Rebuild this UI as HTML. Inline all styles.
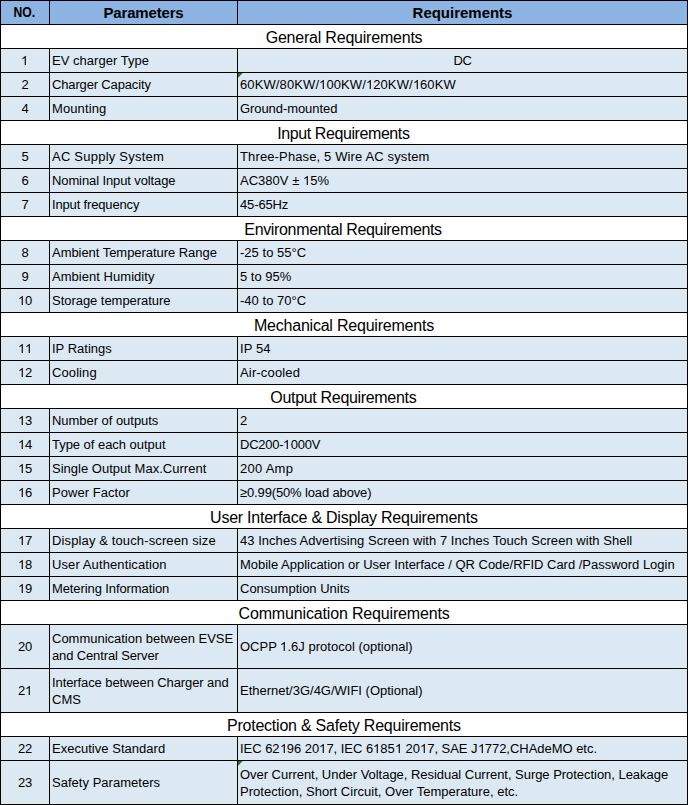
<!DOCTYPE html>
<html><head><meta charset="utf-8"><style>
*{margin:0;padding:0;box-sizing:border-box}
html,body{width:688px;height:805px;overflow:hidden;background:#fff}
body{position:relative;font-family:"Liberation Sans",sans-serif;color:#000000}
.b,.l,.t,.tri{position:absolute}
.l{background:#000000}
.t{display:flex;align-items:center;white-space:nowrap}
.t span{display:block;width:100%}
.d{font-size:13px;line-height:17px}
.d span{position:relative;top:0px}
.d p{transform:scaleY(1.04);transform-origin:50% 13px}
.s{font-size:16px;line-height:18px;letter-spacing:-0.24px}
.s span{position:relative;top:1px}
.h{font-size:15px;font-weight:bold;line-height:18px}
.h span,.hn span{position:relative;top:0px}
.h p{transform:scaleY(1.03);transform-origin:50% 14px}
.hn{font-size:14px;font-weight:bold;line-height:18px}
.hn p{transform:translate(-0.6px,-1px) scaleX(0.87)}
.o{display:inline-block;width:0.5562em;height:0.7188em;fill:currentColor;vertical-align:baseline}
.tri{width:5px;height:5px;background:#18742C;clip-path:polygon(0 0,4.7px 0,0 4.7px)}
</style></head><body>
<div class="b" style="left:0px;top:0px;width:688px;height:24px;background:#8DB4E2"></div>
<div class="t hn" style="left:1px;top:1px;width:48px;height:23px;text-align:center;"><span><p>NO.</p></span></div>
<div class="t h" style="left:50px;top:1px;width:187px;height:23px;text-align:center;"><span><p style="letter-spacing:-0.172px">Parameters</p></span></div>
<div class="t h" style="left:238px;top:1px;width:449px;height:23px;text-align:center;"><span><p style="letter-spacing:-0.019px">Requirements</p></span></div>
<div class="b" style="left:0px;top:24px;width:688px;height:24px;background:#FFFFFF"></div>
<div class="t s" style="left:1px;top:25px;width:686px;height:23px;text-align:center;"><span><p style="letter-spacing:-0.213px;transform:translateX(0.05px)">General Requirements</p></span></div>
<div class="b" style="left:0px;top:48px;width:688px;height:24px;background:#DCE9F3"></div>
<div class="t d" style="left:1px;top:49px;width:48px;height:23px;text-align:center;"><span><p style="letter-spacing:-0.230px"><svg class="o" viewBox="0 0 1139 1472"><path transform="matrix(1 0 0 -1 0 1472)" d="M763 0L583 0L583 1147C540 1106 483 1064 413 1023C342 982 279 951 223 931L223 1105C324 1152 412 1210 487 1277C562 1344 615 1410 646 1472L763 1472Z"/></svg></p></span></div>
<div class="t d" style="left:52px;top:49px;width:185px;height:23px;text-align:left;"><span><p style="letter-spacing:0.032px">EV charger Type</p></span></div>
<div class="t d" style="left:238px;top:49px;width:449px;height:23px;text-align:center;"><span><p style="letter-spacing:-0.388px">DC</p></span></div>
<div class="b" style="left:0px;top:72px;width:688px;height:24px;background:#DCE9F3"></div>
<div class="t d" style="left:1px;top:73px;width:48px;height:23px;text-align:center;"><span><p style="letter-spacing:-0.230px">2</p></span></div>
<div class="t d" style="left:52px;top:73px;width:185px;height:23px;text-align:left;"><span><p style="letter-spacing:-0.151px">Charger Capacity</p></span></div>
<div class="t d" style="left:240px;top:73px;width:447px;height:23px;text-align:left;"><span><p style="letter-spacing:0.112px">60KW/80KW/<svg class="o" viewBox="0 0 1139 1472"><path transform="matrix(1 0 0 -1 0 1472)" d="M763 0L583 0L583 1147C540 1106 483 1064 413 1023C342 982 279 951 223 931L223 1105C324 1152 412 1210 487 1277C562 1344 615 1410 646 1472L763 1472Z"/></svg>00KW/<svg class="o" viewBox="0 0 1139 1472"><path transform="matrix(1 0 0 -1 0 1472)" d="M763 0L583 0L583 1147C540 1106 483 1064 413 1023C342 982 279 951 223 931L223 1105C324 1152 412 1210 487 1277C562 1344 615 1410 646 1472L763 1472Z"/></svg>20KW/<svg class="o" viewBox="0 0 1139 1472"><path transform="matrix(1 0 0 -1 0 1472)" d="M763 0L583 0L583 1147C540 1106 483 1064 413 1023C342 982 279 951 223 931L223 1105C324 1152 412 1210 487 1277C562 1344 615 1410 646 1472L763 1472Z"/></svg>60KW</p></span></div>
<div class="tri" style="left:238px;top:73px"></div>
<div class="b" style="left:0px;top:96px;width:688px;height:24px;background:#DCE9F3"></div>
<div class="t d" style="left:1px;top:97px;width:48px;height:23px;text-align:center;"><span><p style="letter-spacing:-0.230px">4</p></span></div>
<div class="t d" style="left:52px;top:97px;width:185px;height:23px;text-align:left;"><span><p style="letter-spacing:0.111px">Mounting</p></span></div>
<div class="t d" style="left:240px;top:97px;width:447px;height:23px;text-align:left;"><span><p style="letter-spacing:-0.070px">Ground-mounted</p></span></div>
<div class="b" style="left:0px;top:120px;width:688px;height:24px;background:#FFFFFF"></div>
<div class="t s" style="left:1px;top:121px;width:686px;height:23px;text-align:center;"><span><p style="letter-spacing:-0.416px;transform:translateX(-0.60px)">Input Requirements</p></span></div>
<div class="b" style="left:0px;top:144px;width:688px;height:24px;background:#DCE9F3"></div>
<div class="t d" style="left:1px;top:145px;width:48px;height:23px;text-align:center;"><span><p style="letter-spacing:-0.230px">5</p></span></div>
<div class="t d" style="left:52px;top:145px;width:185px;height:23px;text-align:left;"><span><p style="letter-spacing:0.230px">AC Supply System</p></span></div>
<div class="t d" style="left:240px;top:145px;width:447px;height:23px;text-align:left;"><span><p style="letter-spacing:0.132px">Three-Phase, 5 Wire AC system</p></span></div>
<div class="b" style="left:0px;top:168px;width:688px;height:24px;background:#DCE9F3"></div>
<div class="t d" style="left:1px;top:169px;width:48px;height:23px;text-align:center;"><span><p style="letter-spacing:-0.230px">6</p></span></div>
<div class="t d" style="left:52px;top:169px;width:185px;height:23px;text-align:left;"><span><p style="letter-spacing:-0.110px">Nominal Input voltage</p></span></div>
<div class="t d" style="left:240px;top:169px;width:447px;height:23px;text-align:left;"><span><p style="letter-spacing:0.017px">AC380V ± <svg class="o" viewBox="0 0 1139 1472"><path transform="matrix(1 0 0 -1 0 1472)" d="M763 0L583 0L583 1147C540 1106 483 1064 413 1023C342 982 279 951 223 931L223 1105C324 1152 412 1210 487 1277C562 1344 615 1410 646 1472L763 1472Z"/></svg>5%</p></span></div>
<div class="b" style="left:0px;top:192px;width:688px;height:24px;background:#DCE9F3"></div>
<div class="t d" style="left:1px;top:193px;width:48px;height:23px;text-align:center;"><span><p style="letter-spacing:-0.230px">7</p></span></div>
<div class="t d" style="left:52px;top:193px;width:185px;height:23px;text-align:left;"><span><p style="letter-spacing:-0.158px">Input frequency</p></span></div>
<div class="t d" style="left:240px;top:193px;width:447px;height:23px;text-align:left;"><span><p style="letter-spacing:-0.138px">45-65Hz</p></span></div>
<div class="b" style="left:0px;top:216px;width:688px;height:24px;background:#FFFFFF"></div>
<div class="t s" style="left:1px;top:217px;width:686px;height:23px;text-align:center;"><span><p style="letter-spacing:-0.340px;transform:translateX(-0.95px)">Environmental Requirements</p></span></div>
<div class="b" style="left:0px;top:240px;width:688px;height:24px;background:#DCE9F3"></div>
<div class="t d" style="left:1px;top:241px;width:48px;height:23px;text-align:center;"><span><p style="letter-spacing:-0.230px">8</p></span></div>
<div class="t d" style="left:52px;top:241px;width:185px;height:23px;text-align:left;"><span><p style="letter-spacing:-0.045px">Ambient Temperature Range</p></span></div>
<div class="t d" style="left:240px;top:241px;width:447px;height:23px;text-align:left;"><span><p style="letter-spacing:0.028px">-25 to 55°C</p></span></div>
<div class="b" style="left:0px;top:264px;width:688px;height:24px;background:#DCE9F3"></div>
<div class="t d" style="left:1px;top:265px;width:48px;height:23px;text-align:center;"><span><p style="letter-spacing:-0.230px">9</p></span></div>
<div class="t d" style="left:52px;top:265px;width:185px;height:23px;text-align:left;"><span><p style="letter-spacing:0.035px">Ambient Humidity</p></span></div>
<div class="t d" style="left:240px;top:265px;width:447px;height:23px;text-align:left;"><span><p>5 to 95%</p></span></div>
<div class="b" style="left:0px;top:288px;width:688px;height:24px;background:#DCE9F3"></div>
<div class="t d" style="left:1px;top:289px;width:48px;height:23px;text-align:center;"><span><p style="letter-spacing:-0.230px"><svg class="o" viewBox="0 0 1139 1472"><path transform="matrix(1 0 0 -1 0 1472)" d="M763 0L583 0L583 1147C540 1106 483 1064 413 1023C342 982 279 951 223 931L223 1105C324 1152 412 1210 487 1277C562 1344 615 1410 646 1472L763 1472Z"/></svg>0</p></span></div>
<div class="t d" style="left:52px;top:289px;width:185px;height:23px;text-align:left;"><span><p style="letter-spacing:-0.037px">Storage temperature</p></span></div>
<div class="t d" style="left:240px;top:289px;width:447px;height:23px;text-align:left;"><span><p style="letter-spacing:0.028px">-40 to 70°C</p></span></div>
<div class="b" style="left:0px;top:312px;width:688px;height:24px;background:#FFFFFF"></div>
<div class="t s" style="left:1px;top:313px;width:686px;height:23px;text-align:center;"><span><p style="letter-spacing:-0.216px;transform:translateX(-0.05px)">Mechanical Requirements</p></span></div>
<div class="b" style="left:0px;top:336px;width:688px;height:24px;background:#DCE9F3"></div>
<div class="t d" style="left:1px;top:337px;width:48px;height:23px;text-align:center;"><span><p style="letter-spacing:-0.230px"><svg class="o" viewBox="0 0 1139 1472"><path transform="matrix(1 0 0 -1 0 1472)" d="M763 0L583 0L583 1147C540 1106 483 1064 413 1023C342 982 279 951 223 931L223 1105C324 1152 412 1210 487 1277C562 1344 615 1410 646 1472L763 1472Z"/></svg><svg class="o" viewBox="0 0 1139 1472"><path transform="matrix(1 0 0 -1 0 1472)" d="M763 0L583 0L583 1147C540 1106 483 1064 413 1023C342 982 279 951 223 931L223 1105C324 1152 412 1210 487 1277C562 1344 615 1410 646 1472L763 1472Z"/></svg></p></span></div>
<div class="t d" style="left:52px;top:337px;width:185px;height:23px;text-align:left;"><span><p style="letter-spacing:0.003px">IP Ratings</p></span></div>
<div class="t d" style="left:240px;top:337px;width:447px;height:23px;text-align:left;"><span><p style="letter-spacing:0.079px">IP 54</p></span></div>
<div class="b" style="left:0px;top:360px;width:688px;height:24px;background:#DCE9F3"></div>
<div class="t d" style="left:1px;top:361px;width:48px;height:23px;text-align:center;"><span><p style="letter-spacing:-0.230px"><svg class="o" viewBox="0 0 1139 1472"><path transform="matrix(1 0 0 -1 0 1472)" d="M763 0L583 0L583 1147C540 1106 483 1064 413 1023C342 982 279 951 223 931L223 1105C324 1152 412 1210 487 1277C562 1344 615 1410 646 1472L763 1472Z"/></svg>2</p></span></div>
<div class="t d" style="left:52px;top:361px;width:185px;height:23px;text-align:left;"><span><p style="letter-spacing:0.095px">Cooling</p></span></div>
<div class="t d" style="left:240px;top:361px;width:447px;height:23px;text-align:left;"><span><p style="letter-spacing:0.159px">Air-cooled</p></span></div>
<div class="b" style="left:0px;top:384px;width:688px;height:24px;background:#FFFFFF"></div>
<div class="t s" style="left:1px;top:385px;width:686px;height:23px;text-align:center;"><span><p style="letter-spacing:-0.322px;transform:translateX(-0.65px)">Output Requirements</p></span></div>
<div class="b" style="left:0px;top:408px;width:688px;height:24px;background:#DCE9F3"></div>
<div class="t d" style="left:1px;top:409px;width:48px;height:23px;text-align:center;"><span><p style="letter-spacing:-0.230px"><svg class="o" viewBox="0 0 1139 1472"><path transform="matrix(1 0 0 -1 0 1472)" d="M763 0L583 0L583 1147C540 1106 483 1064 413 1023C342 982 279 951 223 931L223 1105C324 1152 412 1210 487 1277C562 1344 615 1410 646 1472L763 1472Z"/></svg>3</p></span></div>
<div class="t d" style="left:52px;top:409px;width:185px;height:23px;text-align:left;"><span><p style="letter-spacing:-0.038px">Number of outputs</p></span></div>
<div class="t d" style="left:240px;top:409px;width:447px;height:23px;text-align:left;"><span><p style="letter-spacing:-0.230px">2</p></span></div>
<div class="b" style="left:0px;top:432px;width:688px;height:24px;background:#DCE9F3"></div>
<div class="t d" style="left:1px;top:433px;width:48px;height:23px;text-align:center;"><span><p style="letter-spacing:-0.230px"><svg class="o" viewBox="0 0 1139 1472"><path transform="matrix(1 0 0 -1 0 1472)" d="M763 0L583 0L583 1147C540 1106 483 1064 413 1023C342 982 279 951 223 931L223 1105C324 1152 412 1210 487 1277C562 1344 615 1410 646 1472L763 1472Z"/></svg>4</p></span></div>
<div class="t d" style="left:52px;top:433px;width:185px;height:23px;text-align:left;"><span><p style="letter-spacing:-0.037px">Type of each output</p></span></div>
<div class="t d" style="left:240px;top:433px;width:447px;height:23px;text-align:left;"><span><p style="letter-spacing:-0.227px">DC200-<svg class="o" viewBox="0 0 1139 1472"><path transform="matrix(1 0 0 -1 0 1472)" d="M763 0L583 0L583 1147C540 1106 483 1064 413 1023C342 982 279 951 223 931L223 1105C324 1152 412 1210 487 1277C562 1344 615 1410 646 1472L763 1472Z"/></svg>000V</p></span></div>
<div class="b" style="left:0px;top:456px;width:688px;height:24px;background:#DCE9F3"></div>
<div class="t d" style="left:1px;top:457px;width:48px;height:23px;text-align:center;"><span><p style="letter-spacing:-0.230px"><svg class="o" viewBox="0 0 1139 1472"><path transform="matrix(1 0 0 -1 0 1472)" d="M763 0L583 0L583 1147C540 1106 483 1064 413 1023C342 982 279 951 223 931L223 1105C324 1152 412 1210 487 1277C562 1344 615 1410 646 1472L763 1472Z"/></svg>5</p></span></div>
<div class="t d" style="left:52px;top:457px;width:185px;height:23px;text-align:left;"><span><p style="letter-spacing:0.015px">Single Output Max.Current</p></span></div>
<div class="t d" style="left:240px;top:457px;width:447px;height:23px;text-align:left;"><span><p style="letter-spacing:0.262px">200 Amp</p></span></div>
<div class="b" style="left:0px;top:480px;width:688px;height:24px;background:#DCE9F3"></div>
<div class="t d" style="left:1px;top:481px;width:48px;height:23px;text-align:center;"><span><p style="letter-spacing:-0.230px"><svg class="o" viewBox="0 0 1139 1472"><path transform="matrix(1 0 0 -1 0 1472)" d="M763 0L583 0L583 1147C540 1106 483 1064 413 1023C342 982 279 951 223 931L223 1105C324 1152 412 1210 487 1277C562 1344 615 1410 646 1472L763 1472Z"/></svg>6</p></span></div>
<div class="t d" style="left:52px;top:481px;width:185px;height:23px;text-align:left;"><span><p style="letter-spacing:0.047px">Power Factor</p></span></div>
<div class="t d" style="left:240px;top:481px;width:447px;height:23px;text-align:left;"><span><p style="letter-spacing:-0.141px">≥0.99(50% load above)</p></span></div>
<div class="b" style="left:0px;top:504px;width:688px;height:24px;background:#FFFFFF"></div>
<div class="t s" style="left:1px;top:505px;width:686px;height:23px;text-align:center;"><span><p style="letter-spacing:-0.241px;transform:translateX(-0.10px)">User Interface &amp; Display Requirements</p></span></div>
<div class="b" style="left:0px;top:528px;width:688px;height:24px;background:#DCE9F3"></div>
<div class="t d" style="left:1px;top:529px;width:48px;height:23px;text-align:center;"><span><p style="letter-spacing:-0.230px"><svg class="o" viewBox="0 0 1139 1472"><path transform="matrix(1 0 0 -1 0 1472)" d="M763 0L583 0L583 1147C540 1106 483 1064 413 1023C342 982 279 951 223 931L223 1105C324 1152 412 1210 487 1277C562 1344 615 1410 646 1472L763 1472Z"/></svg>7</p></span></div>
<div class="t d" style="left:52px;top:529px;width:185px;height:23px;text-align:left;"><span><p style="letter-spacing:0.126px">Display &amp; touch-screen size</p></span></div>
<div class="t d" style="left:240px;top:529px;width:447px;height:23px;text-align:left;"><span><p style="letter-spacing:0.035px">43 Inches Advertising Screen with 7 Inches Touch Screen with Shell</p></span></div>
<div class="b" style="left:0px;top:552px;width:688px;height:24px;background:#DCE9F3"></div>
<div class="t d" style="left:1px;top:553px;width:48px;height:23px;text-align:center;"><span><p style="letter-spacing:-0.230px"><svg class="o" viewBox="0 0 1139 1472"><path transform="matrix(1 0 0 -1 0 1472)" d="M763 0L583 0L583 1147C540 1106 483 1064 413 1023C342 982 279 951 223 931L223 1105C324 1152 412 1210 487 1277C562 1344 615 1410 646 1472L763 1472Z"/></svg>8</p></span></div>
<div class="t d" style="left:52px;top:553px;width:185px;height:23px;text-align:left;"><span><p style="letter-spacing:0.102px">User Authentication</p></span></div>
<div class="t d" style="left:240px;top:553px;width:447px;height:23px;text-align:left;"><span><p style="letter-spacing:-0.015px">Mobile Application or User Interface / QR Code/RFID Card /Password Login</p></span></div>
<div class="b" style="left:0px;top:576px;width:688px;height:24px;background:#DCE9F3"></div>
<div class="t d" style="left:1px;top:577px;width:48px;height:23px;text-align:center;"><span><p style="letter-spacing:-0.230px"><svg class="o" viewBox="0 0 1139 1472"><path transform="matrix(1 0 0 -1 0 1472)" d="M763 0L583 0L583 1147C540 1106 483 1064 413 1023C342 982 279 951 223 931L223 1105C324 1152 412 1210 487 1277C562 1344 615 1410 646 1472L763 1472Z"/></svg>9</p></span></div>
<div class="t d" style="left:52px;top:577px;width:185px;height:23px;text-align:left;"><span><p style="letter-spacing:-0.101px">Metering Information</p></span></div>
<div class="t d" style="left:240px;top:577px;width:447px;height:23px;text-align:left;"><span><p>Consumption Units</p></span></div>
<div class="b" style="left:0px;top:600px;width:688px;height:24px;background:#FFFFFF"></div>
<div class="t s" style="left:1px;top:601px;width:686px;height:23px;text-align:center;"><span><p style="letter-spacing:-0.160px;transform:translateX(0.10px)">Communication Requirements</p></span></div>
<div class="b" style="left:0px;top:624px;width:688px;height:44px;background:#DCE9F3"></div>
<div class="t d" style="left:1px;top:625px;width:48px;height:43px;text-align:center;"><span><p style="letter-spacing:-0.230px">20</p></span></div>
<div class="t d" style="left:52px;top:625px;width:185px;height:43px;text-align:left;"><span><p style="letter-spacing:-0.010px">Communication between EVSE</p><p style="letter-spacing:-0.135px">and Central Server</p></span></div>
<div class="t d" style="left:240px;top:625px;width:447px;height:43px;text-align:left;"><span><p style="letter-spacing:0.007px">OCPP <svg class="o" viewBox="0 0 1139 1472"><path transform="matrix(1 0 0 -1 0 1472)" d="M763 0L583 0L583 1147C540 1106 483 1064 413 1023C342 982 279 951 223 931L223 1105C324 1152 412 1210 487 1277C562 1344 615 1410 646 1472L763 1472Z"/></svg>.6J protocol (optional)</p></span></div>
<div class="b" style="left:0px;top:668px;width:688px;height:44px;background:#DCE9F3"></div>
<div class="t d" style="left:1px;top:669px;width:48px;height:43px;text-align:center;"><span><p style="letter-spacing:-0.230px">2<svg class="o" viewBox="0 0 1139 1472"><path transform="matrix(1 0 0 -1 0 1472)" d="M763 0L583 0L583 1147C540 1106 483 1064 413 1023C342 982 279 951 223 931L223 1105C324 1152 412 1210 487 1277C562 1344 615 1410 646 1472L763 1472Z"/></svg></p></span></div>
<div class="t d" style="left:52px;top:669px;width:185px;height:43px;text-align:left;"><span><p style="letter-spacing:-0.093px">Interface between Charger and</p><p style="letter-spacing:-0.013px">CMS</p></span></div>
<div class="t d" style="left:240px;top:669px;width:447px;height:43px;text-align:left;"><span><p style="letter-spacing:-0.007px">Ethernet/3G/4G/WIFI (Optional)</p></span></div>
<div class="b" style="left:0px;top:712px;width:688px;height:24px;background:#FFFFFF"></div>
<div class="t s" style="left:1px;top:713px;width:686px;height:23px;text-align:center;"><span><p style="letter-spacing:-0.224px;transform:translateX(-0.15px)">Protection &amp; Safety Requirements</p></span></div>
<div class="b" style="left:0px;top:736px;width:688px;height:24px;background:#DCE9F3"></div>
<div class="t d" style="left:1px;top:737px;width:48px;height:23px;text-align:center;"><span><p style="letter-spacing:-0.230px">22</p></span></div>
<div class="t d" style="left:52px;top:737px;width:185px;height:23px;text-align:left;"><span><p style="letter-spacing:0.022px">Executive Standard</p></span></div>
<div class="t d" style="left:240px;top:737px;width:447px;height:23px;text-align:left;"><span><p style="letter-spacing:-0.030px">IEC 62<svg class="o" viewBox="0 0 1139 1472"><path transform="matrix(1 0 0 -1 0 1472)" d="M763 0L583 0L583 1147C540 1106 483 1064 413 1023C342 982 279 951 223 931L223 1105C324 1152 412 1210 487 1277C562 1344 615 1410 646 1472L763 1472Z"/></svg>96 20<svg class="o" viewBox="0 0 1139 1472"><path transform="matrix(1 0 0 -1 0 1472)" d="M763 0L583 0L583 1147C540 1106 483 1064 413 1023C342 982 279 951 223 931L223 1105C324 1152 412 1210 487 1277C562 1344 615 1410 646 1472L763 1472Z"/></svg>7, IEC 6<svg class="o" viewBox="0 0 1139 1472"><path transform="matrix(1 0 0 -1 0 1472)" d="M763 0L583 0L583 1147C540 1106 483 1064 413 1023C342 982 279 951 223 931L223 1105C324 1152 412 1210 487 1277C562 1344 615 1410 646 1472L763 1472Z"/></svg>85<svg class="o" viewBox="0 0 1139 1472"><path transform="matrix(1 0 0 -1 0 1472)" d="M763 0L583 0L583 1147C540 1106 483 1064 413 1023C342 982 279 951 223 931L223 1105C324 1152 412 1210 487 1277C562 1344 615 1410 646 1472L763 1472Z"/></svg> 20<svg class="o" viewBox="0 0 1139 1472"><path transform="matrix(1 0 0 -1 0 1472)" d="M763 0L583 0L583 1147C540 1106 483 1064 413 1023C342 982 279 951 223 931L223 1105C324 1152 412 1210 487 1277C562 1344 615 1410 646 1472L763 1472Z"/></svg>7, SAE J<svg class="o" viewBox="0 0 1139 1472"><path transform="matrix(1 0 0 -1 0 1472)" d="M763 0L583 0L583 1147C540 1106 483 1064 413 1023C342 982 279 951 223 931L223 1105C324 1152 412 1210 487 1277C562 1344 615 1410 646 1472L763 1472Z"/></svg>772,CHAdeMO etc.</p></span></div>
<div class="b" style="left:0px;top:760px;width:688px;height:44px;background:#DCE9F3"></div>
<div class="t d" style="left:1px;top:761px;width:48px;height:43px;text-align:center;"><span><p style="letter-spacing:-0.230px">23</p></span></div>
<div class="t d" style="left:52px;top:761px;width:185px;height:43px;text-align:left;"><span><p style="letter-spacing:0.024px">Safety Parameters</p></span></div>
<div class="t d" style="left:240px;top:761px;width:447px;height:43px;text-align:left;"><span><p style="letter-spacing:-0.036px">Over Current, Under Voltage, Residual Current, Surge Protection, Leakage</p><p style="letter-spacing:0.021px">Protection, Short Circuit, Over Temperature, etc.</p></span></div>
<div class="tri" style="left:238px;top:761px"></div>
<div class="l" style="left:0;top:0px;width:688px;height:1px"></div>
<div class="l" style="left:0;top:24px;width:688px;height:1px"></div>
<div class="l" style="left:0;top:48px;width:688px;height:1px"></div>
<div class="l" style="left:0;top:72px;width:688px;height:1px"></div>
<div class="l" style="left:0;top:96px;width:688px;height:1px"></div>
<div class="l" style="left:0;top:120px;width:688px;height:1px"></div>
<div class="l" style="left:0;top:144px;width:688px;height:1px"></div>
<div class="l" style="left:0;top:168px;width:688px;height:1px"></div>
<div class="l" style="left:0;top:192px;width:688px;height:1px"></div>
<div class="l" style="left:0;top:216px;width:688px;height:1px"></div>
<div class="l" style="left:0;top:240px;width:688px;height:1px"></div>
<div class="l" style="left:0;top:264px;width:688px;height:1px"></div>
<div class="l" style="left:0;top:288px;width:688px;height:1px"></div>
<div class="l" style="left:0;top:312px;width:688px;height:1px"></div>
<div class="l" style="left:0;top:336px;width:688px;height:1px"></div>
<div class="l" style="left:0;top:360px;width:688px;height:1px"></div>
<div class="l" style="left:0;top:384px;width:688px;height:1px"></div>
<div class="l" style="left:0;top:408px;width:688px;height:1px"></div>
<div class="l" style="left:0;top:432px;width:688px;height:1px"></div>
<div class="l" style="left:0;top:456px;width:688px;height:1px"></div>
<div class="l" style="left:0;top:480px;width:688px;height:1px"></div>
<div class="l" style="left:0;top:504px;width:688px;height:1px"></div>
<div class="l" style="left:0;top:528px;width:688px;height:1px"></div>
<div class="l" style="left:0;top:552px;width:688px;height:1px"></div>
<div class="l" style="left:0;top:576px;width:688px;height:1px"></div>
<div class="l" style="left:0;top:600px;width:688px;height:1px"></div>
<div class="l" style="left:0;top:624px;width:688px;height:1px"></div>
<div class="l" style="left:0;top:668px;width:688px;height:1px"></div>
<div class="l" style="left:0;top:712px;width:688px;height:1px"></div>
<div class="l" style="left:0;top:736px;width:688px;height:1px"></div>
<div class="l" style="left:0;top:760px;width:688px;height:1px"></div>
<div class="l" style="left:0;top:804px;width:688px;height:1px"></div>
<div class="l" style="left:0;top:0;width:1px;height:805px"></div>
<div class="l" style="left:687px;top:0;width:1px;height:805px"></div>
<div class="l" style="left:49px;top:0px;width:1px;height:24px"></div>
<div class="l" style="left:237px;top:0px;width:1px;height:24px"></div>
<div class="l" style="left:49px;top:48px;width:1px;height:24px"></div>
<div class="l" style="left:237px;top:48px;width:1px;height:24px"></div>
<div class="l" style="left:49px;top:72px;width:1px;height:24px"></div>
<div class="l" style="left:237px;top:72px;width:1px;height:24px"></div>
<div class="l" style="left:49px;top:96px;width:1px;height:24px"></div>
<div class="l" style="left:237px;top:96px;width:1px;height:24px"></div>
<div class="l" style="left:49px;top:144px;width:1px;height:24px"></div>
<div class="l" style="left:237px;top:144px;width:1px;height:24px"></div>
<div class="l" style="left:49px;top:168px;width:1px;height:24px"></div>
<div class="l" style="left:237px;top:168px;width:1px;height:24px"></div>
<div class="l" style="left:49px;top:192px;width:1px;height:24px"></div>
<div class="l" style="left:237px;top:192px;width:1px;height:24px"></div>
<div class="l" style="left:49px;top:240px;width:1px;height:24px"></div>
<div class="l" style="left:237px;top:240px;width:1px;height:24px"></div>
<div class="l" style="left:49px;top:264px;width:1px;height:24px"></div>
<div class="l" style="left:237px;top:264px;width:1px;height:24px"></div>
<div class="l" style="left:49px;top:288px;width:1px;height:24px"></div>
<div class="l" style="left:237px;top:288px;width:1px;height:24px"></div>
<div class="l" style="left:49px;top:336px;width:1px;height:24px"></div>
<div class="l" style="left:237px;top:336px;width:1px;height:24px"></div>
<div class="l" style="left:49px;top:360px;width:1px;height:24px"></div>
<div class="l" style="left:237px;top:360px;width:1px;height:24px"></div>
<div class="l" style="left:49px;top:408px;width:1px;height:24px"></div>
<div class="l" style="left:237px;top:408px;width:1px;height:24px"></div>
<div class="l" style="left:49px;top:432px;width:1px;height:24px"></div>
<div class="l" style="left:237px;top:432px;width:1px;height:24px"></div>
<div class="l" style="left:49px;top:456px;width:1px;height:24px"></div>
<div class="l" style="left:237px;top:456px;width:1px;height:24px"></div>
<div class="l" style="left:49px;top:480px;width:1px;height:24px"></div>
<div class="l" style="left:237px;top:480px;width:1px;height:24px"></div>
<div class="l" style="left:49px;top:528px;width:1px;height:24px"></div>
<div class="l" style="left:237px;top:528px;width:1px;height:24px"></div>
<div class="l" style="left:49px;top:552px;width:1px;height:24px"></div>
<div class="l" style="left:237px;top:552px;width:1px;height:24px"></div>
<div class="l" style="left:49px;top:576px;width:1px;height:24px"></div>
<div class="l" style="left:237px;top:576px;width:1px;height:24px"></div>
<div class="l" style="left:49px;top:624px;width:1px;height:44px"></div>
<div class="l" style="left:237px;top:624px;width:1px;height:44px"></div>
<div class="l" style="left:49px;top:668px;width:1px;height:44px"></div>
<div class="l" style="left:237px;top:668px;width:1px;height:44px"></div>
<div class="l" style="left:49px;top:736px;width:1px;height:24px"></div>
<div class="l" style="left:237px;top:736px;width:1px;height:24px"></div>
<div class="l" style="left:49px;top:760px;width:1px;height:44px"></div>
<div class="l" style="left:237px;top:760px;width:1px;height:44px"></div>
</body></html>
